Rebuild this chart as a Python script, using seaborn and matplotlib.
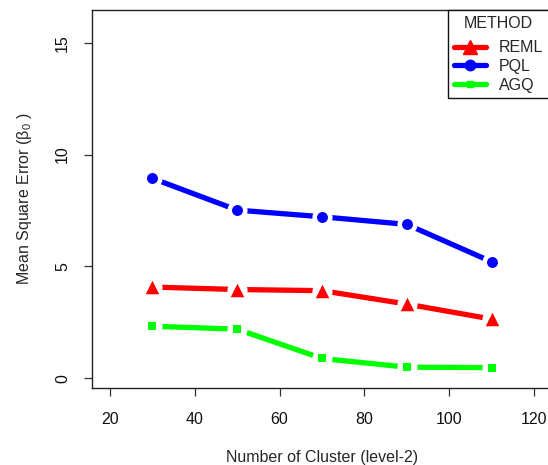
import numpy as np
import pandas as pd
import matplotlib
matplotlib.use("Agg")
import matplotlib.pyplot as plt
from matplotlib.lines import Line2D
import seaborn as sns

# Mean square error of the intercept by number of level-2 clusters
clusters = [30, 50, 70, 90, 110]
reml = [4.08, 3.97, 3.92, 3.32, 2.65]
pql = [8.94, 7.52, 7.22, 6.88, 5.21]
agq = [2.33, 2.20, 0.89, 0.50, 0.48]

methods = ["REML", "PQL", "AGQ"]
colors = {"REML": "#ff0000", "PQL": "#0000ff", "AGQ": "#00ff00"}
markers = {"REML": "^", "PQL": "o", "AGQ": "s"}
msizes = {"REML": 95, "PQL": 62, "AGQ": 28}

xticks = [20, 40, 60, 80, 100, 120]
yticks = [0, 5, 10, 15]

df = pd.DataFrame({
    "clusters": clusters * 3,
    "mse": reml + pql + agq,
    "method": sum([[m] * len(clusters) for m in methods], []),
})

sns.set_style("white")
plt.rcParams["font.family"] = ["Liberation Sans", "DejaVu Sans"]
plt.rcParams["mathtext.fontset"] = "custom"
plt.rcParams["mathtext.rm"] = "Liberation Sans"

FS = 11.5
W, H = 548, 465
fig = plt.figure(figsize=(W / 100, H / 100), dpi=100)
left, right, top, bottom = 92.3, 551.0, 10.0, 388.0
ax = fig.add_axes([left / W, 1 - bottom / H, (right - left) / W, (bottom - top) / H])

# connecting lines
sns.lineplot(data=df, x="clusters", y="mse", hue="method", palette=colors,
             linewidth=3.8, legend=False, ax=ax, zorder=2)
# white halos leave a gap between each point and its segments
sns.scatterplot(data=df, x="clusters", y="mse", color="white", s=210,
                marker="o", linewidth=0, legend=False, ax=ax, zorder=3)
for m in methods:
    sub = df[df["method"] == m]
    sns.scatterplot(data=sub, x="clusters", y="mse", color=colors[m],
                    marker=markers[m], s=msizes[m], linewidth=0,
                    legend=False, ax=ax, zorder=4)

ax.set_xlim(15.85, 124.0)
ax.set_ylim(-0.43, 16.46)
ax.set_xticks(xticks)
ax.set_yticks(yticks)
ax.set_yticklabels([str(v) for v in yticks], rotation=90, va="center")
ax.tick_params(axis="both", bottom=True, left=True, direction="out",
               length=6, width=0.9, color="#333333", labelsize=FS,
               labelcolor="#111111")
ax.tick_params(axis="x", pad=11)
ax.tick_params(axis="y", pad=10)

for s in ["left", "bottom", "top", "right"]:
    ax.spines[s].set_color("#222222")
    ax.spines[s].set_linewidth(1.0)

ax.set_xlabel("Number of Cluster (level-2)", fontsize=FS, labelpad=17)
ax.set_ylabel("Mean Square Error (β$_{\\mathregular{0}}$ )", fontsize=FS, labelpad=15)

handles = [Line2D([0], [0], color=colors[m], lw=3.8, marker=markers[m],
                  markersize={"REML": 9.5, "PQL": 7.5, "AGQ": 5}[m]) for m in methods]
leg = ax.legend(handles, methods, title="METHOD", loc="upper left",
                bbox_to_anchor=(448.3 / W, 1 - 10 / H), bbox_transform=fig.transFigure,
                borderaxespad=0, frameon=True, fancybox=False, framealpha=1,
                edgecolor="#111111", fontsize=FS, title_fontsize=FS,
                handlelength=2.0, handletextpad=0.8, labelspacing=0.23,
                borderpad=0.35)
leg.get_frame().set_linewidth(1.0)
# a little more room between the title and the entries
leg._legend_box.sep = 7.0

fig.savefig("out.png", dpi=100)
